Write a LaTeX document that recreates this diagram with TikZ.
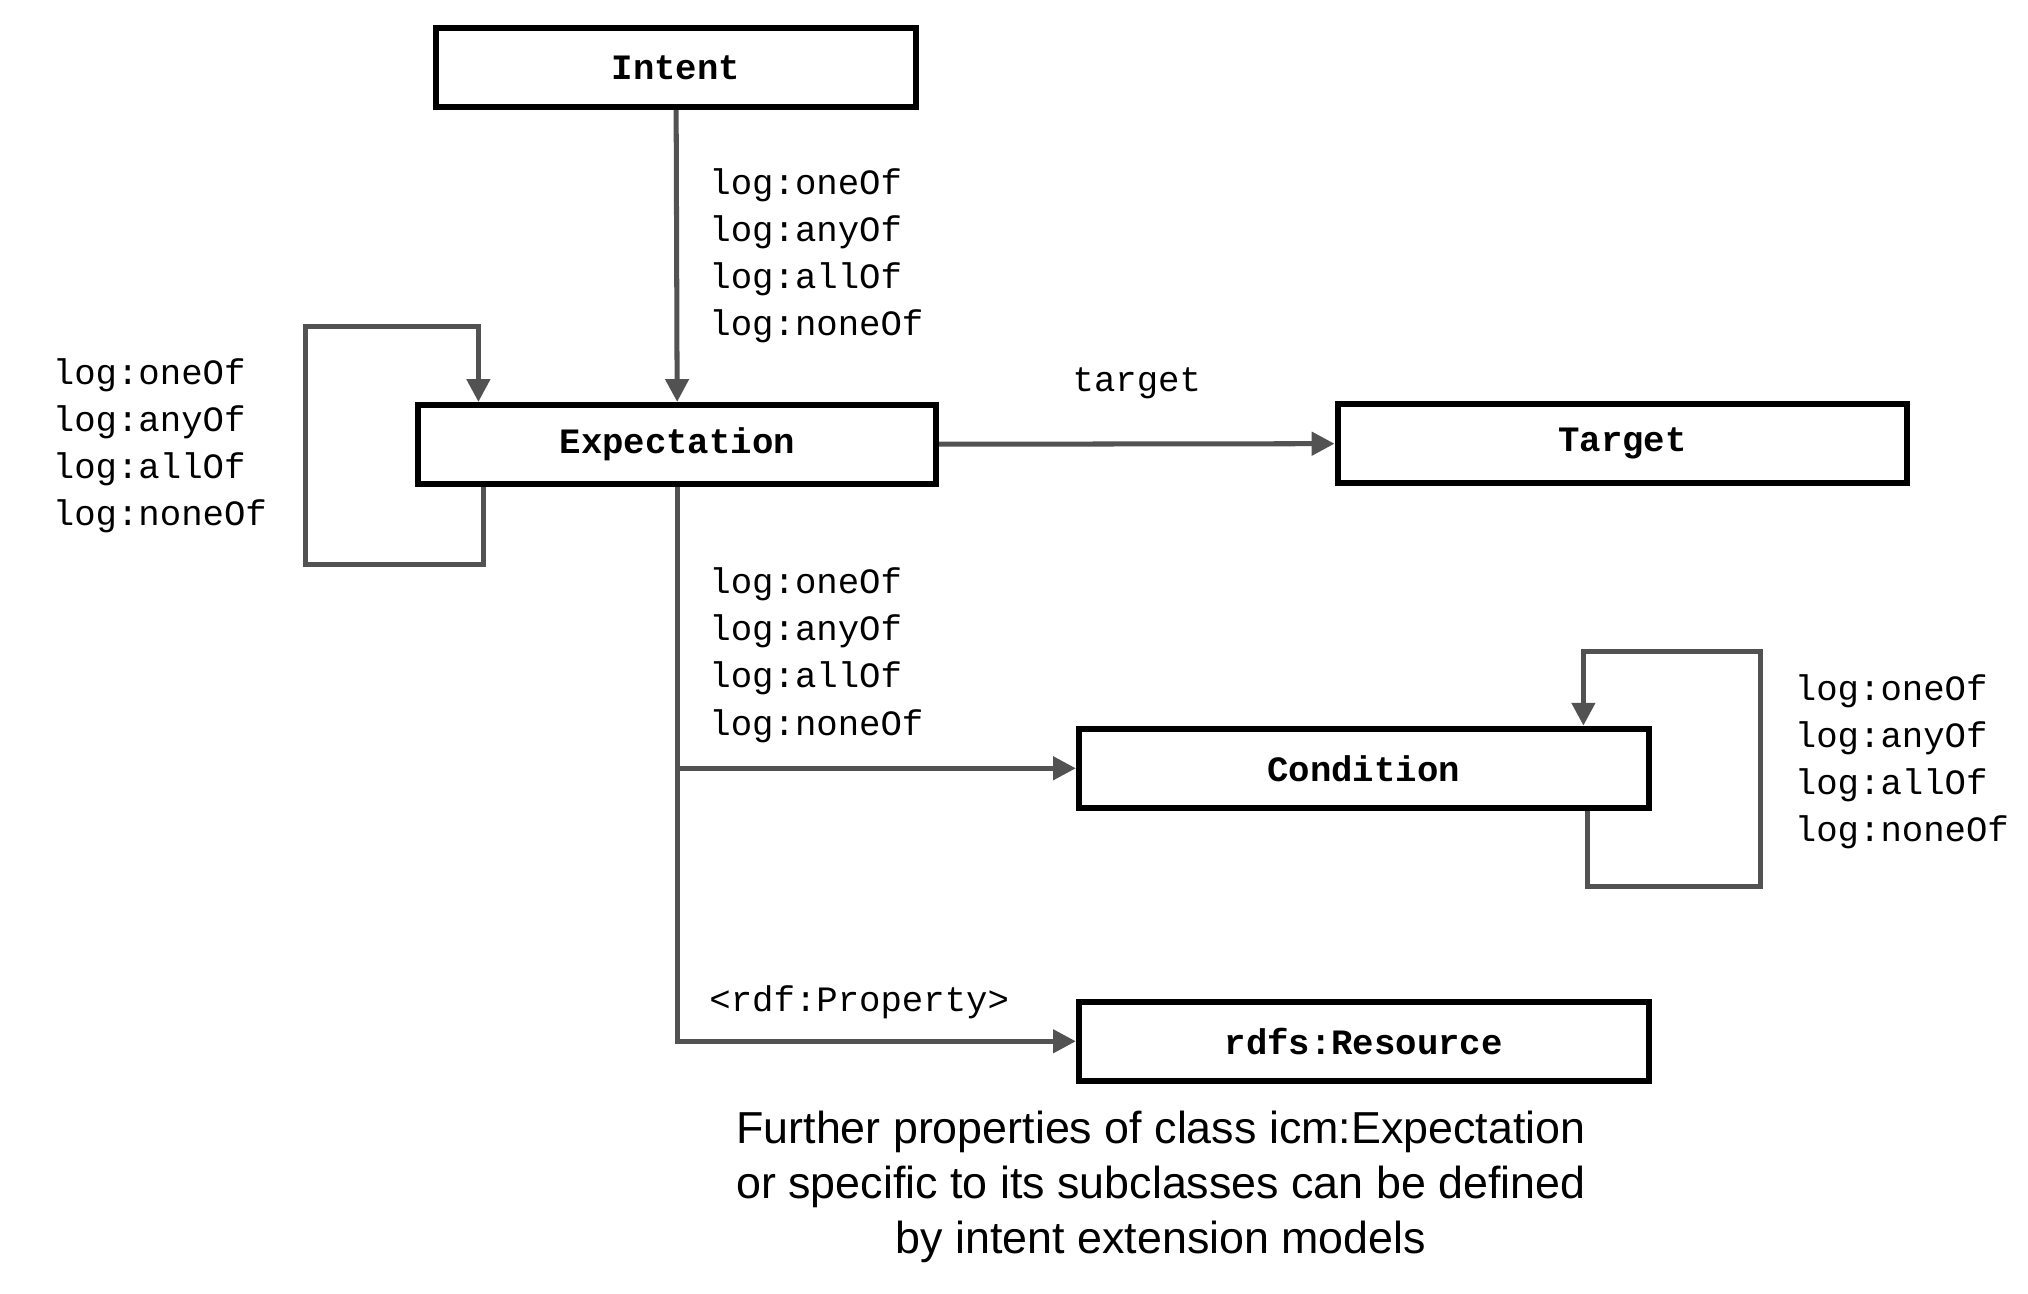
\documentclass[tikz,border=0pt]{standalone}
\usepackage{fontspec}
\setmainfont{Liberation Sans}
\setmonofont{Liberation Mono}
\usetikzlibrary{positioning,arrows.meta}

\begin{document}
\begin{tikzpicture}[%
			x=0.01cm, y=-0.01cm,
			font=\ttfamily\fontsize{7.8}{10.3}\selectfont,
			cls/.style={%
				draw,
				line width=1.3pt,
				minimum height=0.61cm,
				inner sep=0pt,
				font=\ttfamily\bfseries\fontsize{7.8}{10}\selectfont
			},
			arr/.style={%
				draw=black!68,
				line width=1.1pt,
				-{Triangle[length=5pt,width=5pt]}
			},
			props/.style={%
				anchor=west,
				align=left,
				inner sep=0pt
			}
			]
			\useasboundingbox (0,0) rectangle (1560,995);
			\node[cls, minimum width=3.69cm] (int) at (520,52) {Intent};
			\node[cls, minimum width=3.98cm] (exp) at (521,342) {Expectation};
			\node[cls, minimum width=4.38cm] (tgt) at (1248,341) {Target};
			\node[cls, minimum width=4.38cm] (cond) at (1049,591) {Condition};
			\node[cls, minimum width=4.38cm] (res) at (1049,801) {rdfs:Resource};

			% loop corners
			\coordinate (e1) at (372,434);
			\coordinate (e2) at (235,251);
			\coordinate (e3) at (368,251);
			\coordinate (c1) at (1221,682);
			\coordinate (c2) at (1354,501);
			\coordinate (c3) at (1218,501);

			\draw[arr] (int) -- (exp);
			\draw[arr] (exp) -- node[above, yshift=6pt] {target} (tgt);
			\draw[arr] (exp.south) |- (cond);
			\draw[arr] (exp.south) |- (res);
			\draw[arr] (e1 |- exp.south) -- (e1) -| (e2) -- (e3) -- (e3 |- exp.north);
			\draw[arr] (c1 |- cond.south) -- (c1) -| (c2) -- (c3) -- (c3 |- cond.north);

			\node[props] (pint) at (545,197) {log:oneOf\\log:anyOf\\log:allOf\\log:noneOf};
			\node[props] (pexp) at (40,343) {log:oneOf\\log:anyOf\\log:allOf\\log:noneOf};
			\node[props] (pcnd) at (545,504) {log:oneOf\\log:anyOf\\log:allOf\\log:noneOf};
			\node[props] (pcc) at (1380,586) {log:oneOf\\log:anyOf\\log:allOf\\log:noneOf};
			\node[props] (prop) at (545,771) {<rdf:Property>};

			\node[align=center, font=\rmfamily\fontsize{9.8}{12}\selectfont] (note) at (893,913)
				{Further properties of class icm:Expectation\\or specific to its subclasses can be defined\\by intent extension models};
\end{tikzpicture}
\end{document}
